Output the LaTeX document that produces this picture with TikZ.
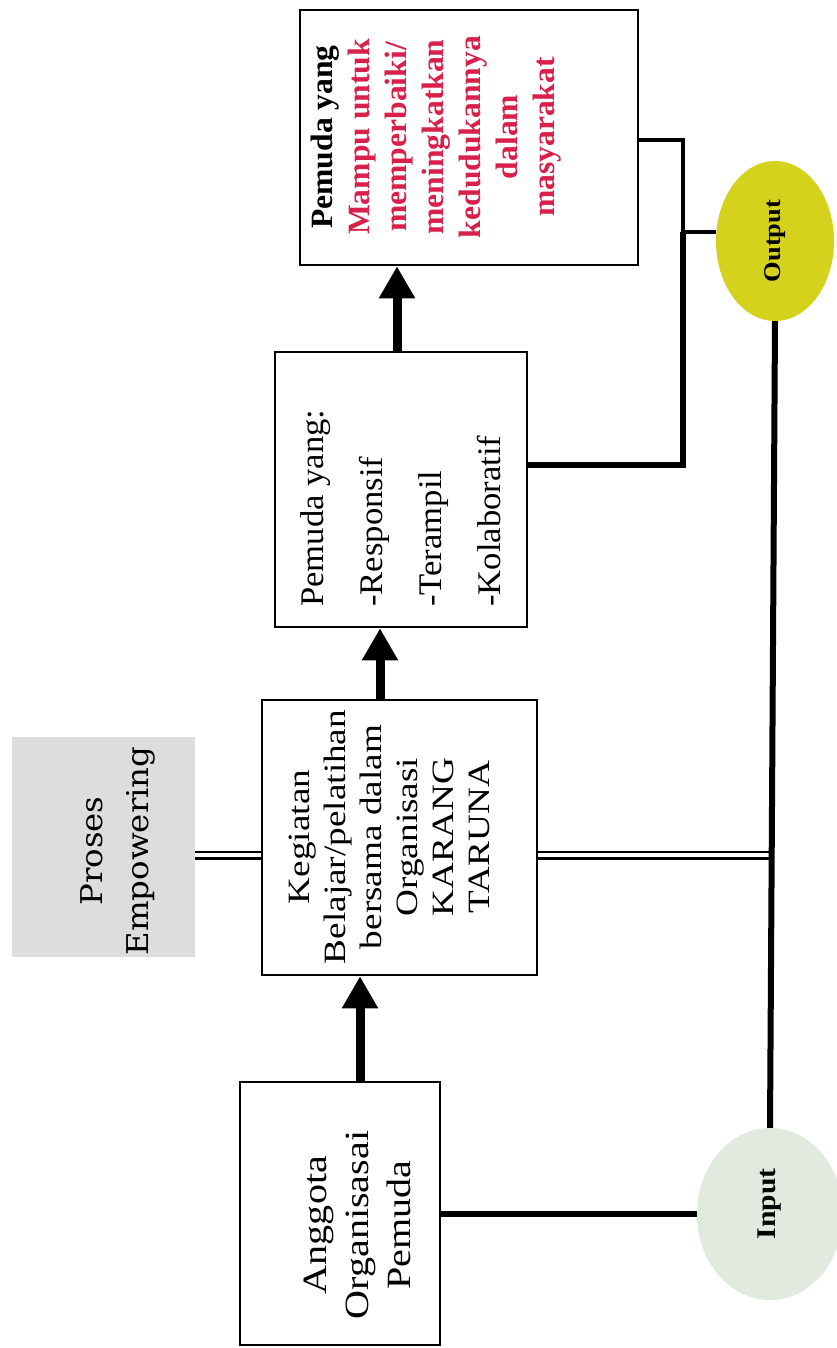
\documentclass[tikz,border=0pt]{standalone}
\usepackage{fontspec}
\setmainfont{Liberation Serif}
\newfontfamily\pefont{DejaVu Serif}
\usepackage{graphicx}
\usetikzlibrary{arrows.meta,shapes.geometric}
\definecolor{pred}{HTML}{D8204A}
\definecolor{outy}{HTML}{D5D21E}
\definecolor{inpg}{HTML}{E2E9DF}
\definecolor{peg}{HTML}{DDDDDD}
\newcommand\sx[2]{\scalebox{#1}[1]{#2}}
\begin{document}
\begin{tikzpicture}[x=1pt,y=-1pt,
  boxnode/.style={draw, line width=2.5pt, rectangle, inner sep=0pt, fill=white},
  txt/.style={rotate=90, inner sep=0pt, align=center},
  arr/.style={line width=9pt, -{Triangle[length=32pt,width=34pt]}},
  thickline/.style={line width=6pt},
  midline/.style={line width=4.5pt},
  thinline/.style={line width=3.5pt},
  dbl/.style={double, double distance=4pt, line width=2.5pt}]
\fill[white] (0,0) rectangle (837,1348);
\useasboundingbox (0,0) rectangle (837,1348);

% shapes
\node[boxnode, minimum width=200pt, minimum height=263pt] (A) at (340,1213.5) {};
\node[boxnode, minimum width=275pt, minimum height=275pt] (B) at (399.5,837.5) {};
\node[boxnode, minimum width=252pt, minimum height=275pt] (C) at (401,489.5) {};
\node[boxnode, minimum width=338pt, minimum height=255pt] (D) at (469,137.5) {};
\node[fill=peg, minimum width=183pt, minimum height=220pt, inner sep=0pt] (P) at (103.5,847) {};
\node[ellipse, fill=outy, minimum width=118pt, minimum height=160pt, inner sep=0pt] (Out) at (775,241) {};
\node[ellipse, fill=inpg, minimum width=146pt, minimum height=172pt, inner sep=0pt] (In) at (770,1214) {};

% texts
\node[txt] (Pt) at (116,851) {\sx{1.08}{\pefont\fontsize{30}{46}\selectfont\begin{tabular}{@{}c@{}}Proses\\Empowering\end{tabular}}};
\node[txt] (Dt) at (436,137) {\sx{1.02}{\bfseries\fontsize{31}{37}\selectfont\begin{tabular}{@{}c@{}}Pemuda yang\\ \textcolor{pred}{Mampu untuk}\\ \textcolor{pred}{memperbaiki/}\\ \textcolor{pred}{meningkatkan}\\ \textcolor{pred}{kedudukannya}\\ \textcolor{pred}{dalam}\\ \textcolor{pred}{masyarakat}\end{tabular}}};
\node[txt, anchor=west] (Ct) at (400,607) {\sx{1.05}{\fontsize{33}{59}\selectfont\begin{tabular}{@{}l@{}}Pemuda yang:\\-Responsif\\-Terampil\\-Kolaboratif\end{tabular}}};
\node[txt] (Bt) at (392,837) {\sx{1.2}{\fontsize{31}{36}\selectfont\begin{tabular}{@{}c@{}}Kegiatan\\Belajar/pelatihan\\bersama dalam\\Organisasi\\KARANG\\TARUNA\end{tabular}}};
\node[txt] (At) at (360,1225) {\sx{1.18}{\fontsize{34}{42}\selectfont\begin{tabular}{@{}c@{}}Anggota\\Organisasai\\Pemuda\end{tabular}}};
\node[txt] (Ot) at (Out) {\sx{1.1}{\fontsize{24}{28}\selectfont\bfseries Output}};
\node[txt] (It) at ([yshift=10pt]In.center) {\sx{1.1}{\fontsize{27}{30}\selectfont\bfseries Input}};

% helper coordinates
\coordinate (xa) at (360,0);
\coordinate (xb) at (380,0);
\coordinate (xc) at (397,0);
\coordinate (hB) at (772,855);
\coordinate (fC) at (683,465);
\coordinate (fO) at (683,232);
\coordinate (fD) at (683,140);

% arrows
\draw[arr] (A.north -| xa) -- (B.south -| xa);
\draw[arr] (B.north -| xb) -- (C.south -| xb);
\draw[arr] (C.north -| xc) -- (D.south -| xc);

% connectors
\draw[dbl] (P.east |- hB) -- (B.west |- hB);
\draw[dbl, shorten >=3pt] (B.east |- hB) -- (hB);
\draw[thickline] (Out.south) -- (In.north);
\draw[thickline] (A.east) -- (A.east -| In.west);
\draw[thickline] (C.east |- fC) -- (fC) -- (fO);
\draw[midline] (fO) -- (fD) -- (D.east |- fD);
\draw[thinline] (fO) -- (Out.west |- fO);
\end{tikzpicture}
\end{document}
